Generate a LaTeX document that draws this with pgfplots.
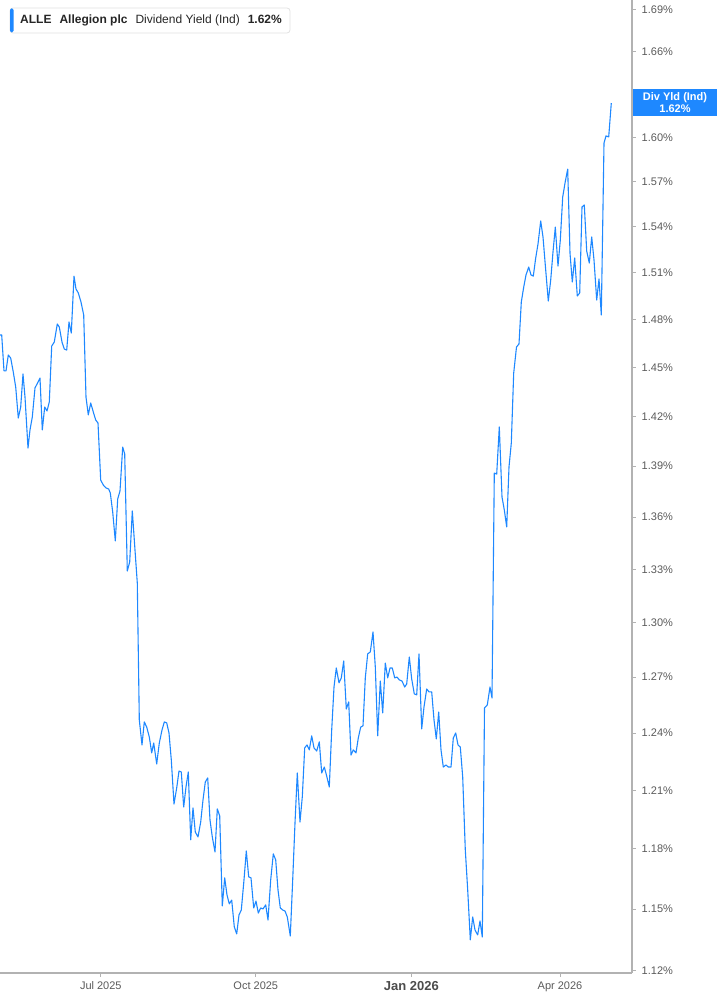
\documentclass[border=0pt]{standalone}
\usepackage{fontspec}
\setmainfont{Liberation Sans}
\usepackage{pgfplots}
\pgfplotsset{compat=1.18}
\usepackage{pgfplotstable}

\definecolor{lineblue}{RGB}{30,136,255}
\definecolor{axisgray}{RGB}{178,178,178}
\definecolor{labelgray}{RGB}{90,90,90}
\definecolor{boxgray}{RGB}{225,225,225}

% x: position on the time axis (Jul 2025 = 100.8, Apr 2026 = 560), y: dividend yield in %
\pgfplotstableread{
x y
0 1.4702
1.7 1.4702
4 1.4478
6 1.4478
8.3 1.4577
10.7 1.4558
13.3 1.4471
15.7 1.4379
18.3 1.4189
20.7 1.4256
23 1.4459
25 1.4317
28 1.4008
30 1.4117
32.3 1.4195
35 1.4373
37.5 1.4403
40 1.4434
42.3 1.4117
44.7 1.4256
47 1.4232
49.3 1.4287
51.7 1.4633
54.3 1.4658
57.3 1.4772
59.3 1.4753
62 1.4658
64.3 1.4614
66.7 1.4608
69 1.4784
71.3 1.4715
74 1.5078
76 1.4994
78.3 1.4969
81 1.4911
83.7 1.4829
86 1.4317
88.3 1.4208
90.7 1.4281
93.3 1.4226
95.7 1.4177
98 1.4159
100.7 1.3818
103.3 1.3788
106 1.3771
108.7 1.3765
110.3 1.3741
112.7 1.3630
115.3 1.3462
117.7 1.3706
120 1.3753
122.7 1.4014
124.7 1.3972
127.3 1.3290
129.7 1.3342
132.3 1.3636
135 1.3410
137.3 1.3222
139.3 1.2470
142 1.2337
144.3 1.2459
146.7 1.2432
149.3 1.2379
151.7 1.2295
153.7 1.2347
156.7 1.2237
159.3 1.2347
162 1.2416
164.3 1.2459
166.7 1.2454
169 1.2400
171.3 1.2258
174 1.2029
176.7 1.2112
179 1.2200
181.3 1.2195
183.7 1.2014
186 1.2117
188.3 1.2195
190.7 1.1846
193 1.2009
195.3 1.1886
198 1.1861
200.7 1.1937
203 1.2050
205.3 1.2143
207.7 1.2164
210 1.1947
212.3 1.1861
215 1.1785
217.3 1.2004
219.7 1.1968
222.3 1.1516
224.7 1.1655
227 1.1570
229.3 1.1526
231.7 1.1545
234.3 1.1413
236.7 1.1379
239 1.1472
241.3 1.1496
244 1.1645
246.3 1.1790
248.7 1.1660
251 1.1655
253.7 1.1506
256 1.1540
258.3 1.1481
260.7 1.1506
263 1.1501
265.7 1.1521
268 1.1447
270.7 1.1645
273.3 1.1775
275.7 1.1745
278 1.1595
280.3 1.1506
282.7 1.1496
285 1.1491
287.3 1.1462
290.3 1.1369
292.7 1.1645
295 1.1932
297.3 1.2190
300 1.1937
302.3 1.2066
304.7 1.2321
307 1.2337
309.3 1.2311
311.7 1.2385
314 1.2321
316.7 1.2305
319.3 1.2353
321.7 1.2190
324.3 1.2221
326.7 1.2174
329.3 1.2117
331.7 1.2416
334 1.2647
336.3 1.2750
339 1.2669
341.3 1.2696
343.7 1.2788
346.3 1.2528
348.7 1.2566
351 1.2284
353.3 1.2311
356 1.2295
358.3 1.2374
360.7 1.2432
363 1.2438
365.3 1.2696
367.7 1.2827
370.3 1.2838
373 1.2948
375.3 1.2756
377.7 1.2385
380.3 1.2679
382.7 1.2507
385.3 1.2777
387.7 1.2696
390 1.2750
392.3 1.2750
394.7 1.2696
397 1.2701
399.3 1.2685
402 1.2679
404.7 1.2647
406.7 1.2663
409.3 1.2810
411.7 1.2690
414.3 1.2609
416.7 1.2604
419 1.2827
421.7 1.2422
424 1.2539
426.7 1.2636
429 1.2620
431.7 1.2620
434 1.2470
436.3 1.2369
438.7 1.2512
441 1.2311
443.3 1.2221
446 1.2232
448.3 1.2221
451 1.2221
453.3 1.2374
455.7 1.2400
458 1.2337
460.3 1.2326
462.7 1.2169
465.3 1.1795
467.7 1.1595
470.3 1.1350
472.7 1.1462
475 1.1398
477.7 1.1374
480 1.1442
482.3 1.1364
484.5 1.2534
487.3 1.2550
490 1.2647
492 1.2587
494.3 1.3859
496.7 1.3853
499.3 1.4135
502 1.3718
504.3 1.3642
506.7 1.3543
509 1.3895
511.3 1.4038
513.7 1.4465
516.5 1.4627
519 1.4646
521.3 1.4911
523.7 1.5007
526 1.5085
528.7 1.5136
531 1.5085
533.3 1.5078
535.7 1.5195
538 1.5286
540.7 1.5437
543 1.5332
545.7 1.5117
548.3 1.4918
550.7 1.5052
553 1.5234
555.3 1.5397
558 1.5143
560.3 1.5312
562.7 1.5596
565 1.5690
567.7 1.5784
570 1.5227
572.3 1.5039
574.7 1.5195
577.3 1.4950
579.7 1.4969
582 1.5530
584.3 1.5543
586.7 1.5240
589.3 1.5162
591.7 1.5332
594 1.5182
596.7 1.4924
599 1.5059
601.3 1.4829
604 1.5961
606 1.6009
608.7 1.6002
611.3 1.6236
}\yielddata

\begin{document}
\begin{tikzpicture}
\path[use as bounding box] (0,-32pt) rectangle (717pt,973pt);
\begin{axis}[
    scale only axis,
    width=631.7pt, height=973pt,
    at={(0,0)}, anchor=south west,
    xmin=0, xmax=631.7,
    ymode=log, ymin=1.11904, ymax=1.69677,
    axis x line*=bottom, axis y line*=right,
    axis line style={axisgray, line width=1.6pt},
    tick align=outside,
    major tick length=4pt,
    tick style={axisgray, line width=1pt},
    xtick={100.8,255.8,411.3,560},
    xticklabels={Jul 2025, Oct 2025, {\fontsize{13}{15}\selectfont\bfseries\color{black!70}Jan 2026}, Apr 2026},
    ytick={1.12,1.15,1.18,1.21,1.24,1.27,1.30,1.33,1.36,1.39,1.42,1.45,1.48,1.51,1.54,1.57,1.60,1.66,1.69},
    yticklabels={1.12\%,1.15\%,1.18\%,1.21\%,1.24\%,1.27\%,1.30\%,1.33\%,1.36\%,1.39\%,1.42\%,1.45\%,1.48\%,1.51\%,1.54\%,1.57\%,1.60\%,1.66\%,1.69\%},
    xticklabel style={font=\fontsize{11}{13}\selectfont, text=labelgray, yshift=-1pt},
    yticklabel style={font=\fontsize{11}{13}\selectfont, text=labelgray, xshift=2.5pt},
    /pgf/number format/assume math mode=true,
    clip=false,
]
\addplot[lineblue, line width=1.1pt, line join=round] table[x=x, y=y] {\yielddata};
\end{axis}
% title box
\draw[boxgray, fill=white, rounded corners=3pt, line width=0.8pt] (10pt,940pt) rectangle (290pt,965pt);
\fill[lineblue, rounded corners=1.5pt] (10pt,940.5pt) rectangle (13.5pt,964.5pt);
\node[anchor=west, inner sep=0pt, font=\fontsize{12}{14}\selectfont, text=black!85] at (20pt,952.5pt)
  {\textbf{ALLE}\hspace{8pt}\textbf{Allegion plc}\hspace{8pt}Dividend Yield (Ind)\hspace{8pt}\textbf{1.62\%}};
% last value box
\fill[lineblue] (633pt,857pt) rectangle (717pt,884pt);
\node[text=white, font=\fontsize{11}{12}\selectfont\bfseries, align=center, inner sep=0pt] at (675pt,870.5pt)
  {Div Yld (Ind)\\1.62\%};
\end{tikzpicture}
\end{document}
